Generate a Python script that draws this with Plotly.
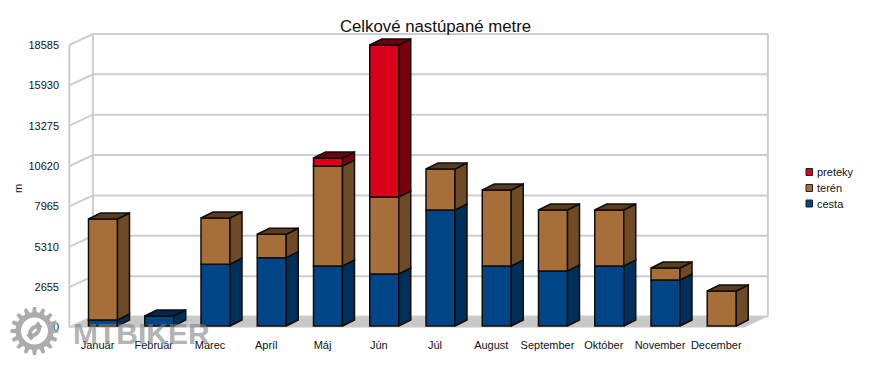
import math
import plotly.graph_objects as go

months = ["Január", "Február", "Marec", "Apríl", "Máj", "Jún", "Júl", "August",
          "September", "Október", "November", "December"]
cesta = [395, 660, 4060, 4495, 3950, 3420, 7630, 3950, 3620, 3950, 3025, 0]
teren = [6645, 0, 3045, 1540, 6575, 5065, 2700, 5000, 4010, 3680, 790, 2305]
preteky = [0, 0, 0, 0, 530, 10000, 0, 0, 0, 0, 0, 0]
y_ticks = [0, 2655, 5310, 7965, 10620, 13275, 15930, 18585]

W, H = 870, 366
PX_L, PX_R, PX_T, PX_B = 60, 772, 30, 332          # plot-area edges in pixels
CAT_PX = 56.25                                     # pixels per category
X0_PX = 97.5                                       # pixel of category 0 on the front plane
Y0_PX, YTOP_PX = 327.5, 45.0                       # pixels of 0 and 18585 on the front plane
UNIT = 18585 / (Y0_PX - YTOP_PX)                   # value units per pixel

xr = [(PX_L - X0_PX) / CAT_PX, (PX_R - X0_PX) / CAT_PX]
yr = [(Y0_PX - PX_B) * UNIT, (Y0_PX - PX_T) * UNIT]

# 3D depth, expressed in axis units
WALL_DX, WALL_DY = 23.5 / CAT_PX, 11.0 * UNIT
BAR_DX, BAR_DY = 12.0 / CAT_PX, 6.0 * UNIT
BAR_W = 29.0 / CAT_PX
BAR_SHIFT = 5.5 / CAT_PX
BAR_LIFT = 1.5 * UNIT
EDGE = "#100c08"
WALL = "#cdcdcd"


def paper(px, py):
    return (px - PX_L) / (PX_R - PX_L), (PX_B - py) / (PX_B - PX_T)


fig = go.Figure()

series = [
    ("cesta", cesta, "#004586", "#002f5c", "#00284f"),
    ("terén", teren, "#a66f39", "#6e4a26", "#5a3c1e"),
    ("preteky", preteky, "#d8001a", "#7b000e", "#6e000c"),
]

left = -0.5
right = 11.5

# back wall, floor and grid, under the bars
shapes = []
floor = (f"M {left} 0 L {right} 0 L {right + WALL_DX} {WALL_DY} "
         f"L {left + WALL_DX} {WALL_DY} Z")
shapes.append(dict(type="path", path=floor, fillcolor="#c8c8c8",
                   line=dict(width=0), layer="below"))
for v in y_ticks:
    path = (f"M {left} {v} L {left + WALL_DX} {v + WALL_DY} "
            f"L {right + WALL_DX} {v + WALL_DY}")
    shapes.append(dict(type="path", path=path, line=dict(color=WALL, width=2),
                       layer="below"))
for xv in (left, left + WALL_DX, right + WALL_DX):
    dy = 0 if xv == left else WALL_DY
    shapes.append(dict(type="line", x0=xv, x1=xv, y0=dy, y1=y_ticks[-1] + dy,
                       line=dict(color=WALL, width=2), layer="below"))

x_idx = list(range(len(months)))
offset = BAR_SHIFT - BAR_W / 2

# front faces and, from the same stacked values, the side and top faces
cum = [BAR_LIFT] * len(months)
totals = [a + b + c + BAR_LIFT for a, b, c in zip(cesta, teren, preteky)]
for name, vals, front, side, top in series:
    bases = list(cum)
    fig.add_trace(go.Bar(
        x=x_idx, y=[v if v > 0 else None for v in vals], base=bases, name=name,
        width=BAR_W, offset=offset, marker=dict(color=front, line=dict(color=EDGE, width=1.5)),
        showlegend=False, hoverinfo="skip",
    ))
    sx, sy, tx, ty = [], [], [], []
    for i, v in enumerate(vals):
        if v <= 0:
            continue
        b, t = cum[i], cum[i] + v
        x1 = i + offset
        x2 = x1 + BAR_W
        sx += [x2, x2 + BAR_DX, x2 + BAR_DX, x2, x2, None]
        sy += [b, b + BAR_DY, t + BAR_DY, t, b, None]
        if t >= totals[i] - 1e-6:
            tx += [x1, x1 + BAR_DX, x2 + BAR_DX, x2, x1, None]
            ty += [t, t + BAR_DY, t + BAR_DY, t, t, None]
        cum[i] = t
    for px_, py_, col in ((sx, sy, side), (tx, ty, top)):
        if px_:
            fig.add_trace(go.Scatter(
                x=px_, y=py_, mode="lines", fill="toself", fillcolor=col,
                line=dict(color=EDGE, width=1.5), showlegend=False, hoverinfo="skip",
            ))

annotations = []

# legend
for (name, vals, front, side, top), ly in zip(series, (203.5, 188, 172)):
    x0, y0 = paper(806, ly - 3.5)
    x1, y1 = paper(812.5, ly + 3.5)
    shapes.append(dict(type="rect", xref="paper", yref="paper", x0=x0, x1=x1, y0=y0, y1=y1,
                       fillcolor=front, line=dict(color="#222222", width=1)))
    ax, ay = paper(815, ly)
    annotations.append(dict(xref="paper", yref="paper", x=ax, y=ay, text=name, showarrow=False,
                            xanchor="left", yanchor="middle",
                            font=dict(family="Liberation Sans", size=11, color="#111111")))

# y axis title
ax, ay = paper(18, 189)
annotations.append(dict(xref="paper", yref="paper", x=ax, y=ay, text="m", textangle=-90,
                        showarrow=False, xanchor="center", yanchor="middle",
                        font=dict(family="Liberation Sans", size=11, color="#111111")))

# watermark
GRAY = "rgba(165,165,165,0.92)"
cx, cy = 34.5, 331.0
pts = []
teeth = 16
for k in range(teeth):
    a = 2 * math.pi * k / teeth
    for da, r in ((-0.12, 19), (-0.07, 24), (0.07, 24), (0.12, 19), (0.27, 19)):
        pts.append((cx + r * math.cos(a + da), cy + r * math.sin(a + da)))
ring = []
for k in range(36, -1, -1):
    a = 2 * math.pi * k / 36
    ring.append((cx + 13.5 * math.cos(a), cy + 13.5 * math.sin(a)))


def to_path(points, close=True):
    out = []
    for j, (px_, py_) in enumerate(points):
        u, v = paper(px_, py_)
        out.append(("M" if j == 0 else "L") + f" {u:.5f} {v:.5f}")
    return " ".join(out) + (" Z" if close else "")


shapes.append(dict(type="path", xref="paper", yref="paper",
                   path=to_path(pts) + " " + to_path(ring), fillcolor=GRAY, line=dict(width=0)))
swirl = []
for k in range(0, 15):
    a = math.radians(135 + 12 * k)
    swirl.append((cx + 7.5 * math.cos(a) + 3, cy + 7.5 * math.sin(a) + 3))
swirl2 = []
for k in range(0, 15):
    a = math.radians(-45 + 12 * k)
    swirl2.append((cx + 7.5 * math.cos(a) - 3, cy + 7.5 * math.sin(a) - 3))
for s in (swirl, swirl2):
    shapes.append(dict(type="path", xref="paper", yref="paper", path=to_path(s, close=False),
                       line=dict(color=GRAY, width=4)))
ax, ay = paper(71, 333)
annotations.append(dict(xref="paper", yref="paper", x=ax, y=ay, text="<b>MTBIKER</b>", showarrow=False,
                        xanchor="left", yanchor="middle",
                        font=dict(family="Liberation Sans", size=30, color="rgba(130,130,130,0.62)")))

fig.update_layout(
    width=W, height=H, autosize=False,
    margin=dict(l=PX_L, r=W - PX_R, t=PX_T, b=H - PX_B, pad=0),
    paper_bgcolor="white", plot_bgcolor="white",
    barmode="overlay", showlegend=False,
    title=dict(text="Celkové nastúpané metre", x=435.5 / W, xanchor="center",
               y=1 - 26.5 / H, yanchor="middle",
               font=dict(family="Liberation Sans", size=16.8, color="#111111")),
    font=dict(family="Liberation Sans", size=11, color="#111111"),
    xaxis=dict(range=xr, tickmode="array", tickvals=x_idx, ticktext=months, showgrid=False,
               zeroline=False, showline=False, ticks="outside", ticklen=3,
               tickcolor="rgba(0,0,0,0)", tickfont=dict(size=11)),
    yaxis=dict(range=yr, tickmode="array", tickvals=y_ticks, ticktext=[str(v) for v in y_ticks],
               showgrid=False, zeroline=False, showline=False, ticks="",
               tickfont=dict(size=11)),
    shapes=shapes, annotations=annotations,
)

fig.write_html("out.html", config={"displayModeBar": False},
               post_script="document.body.style.margin='0';")
